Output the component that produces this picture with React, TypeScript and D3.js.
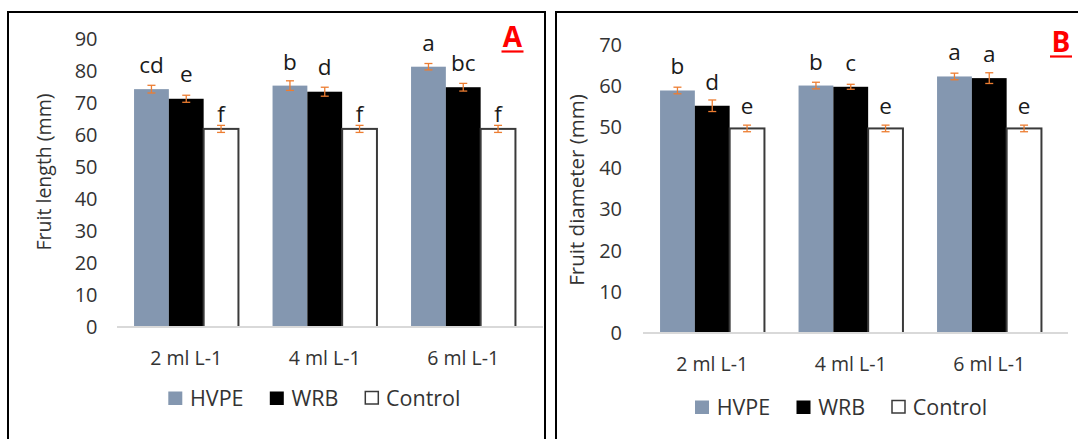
import React from "react";
import * as d3 from "d3";

// ---------- data ----------
const categories = ["2 ml L-1", "4 ml L-1", "6 ml L-1"];
const seriesNames = ["HVPE", "WRB", "Control"];

// Panel A: fruit length (mm)
const lengthHVPE = [74.2, 75.3, 81.2];
const lengthWRB = [71.2, 73.4, 74.8];
const lengthControl = [61.8, 61.8, 61.8];
const lengthErrHVPE = [1.2, 1.5, 1.0];
const lengthErrWRB = [1.1, 1.4, 1.2];
const lengthErrControl = [1.1, 1.1, 1.1];
const lengthLettersHVPE = ["cd", "b", "a"];
const lengthLettersWRB = ["e", "d", "bc"];
const lengthLettersControl = ["f", "f", "f"];
const lengthTicks = [0, 10, 20, 30, 40, 50, 60, 70, 80, 90];

// Panel B: fruit diameter (mm)
const diamHVPE = [58.8, 60.0, 62.2];
const diamWRB = [55.1, 59.7, 61.8];
const diamControl = [49.6, 49.6, 49.6];
const diamErrHVPE = [0.8, 0.8, 0.8];
const diamErrWRB = [1.4, 0.6, 1.3];
const diamErrControl = [0.8, 0.8, 0.8];
const diamLettersHVPE = ["b", "b", "a"];
const diamLettersWRB = ["d", "c", "a"];
const diamLettersControl = ["e", "e", "e"];
const diamTicks = [0, 10, 20, 30, 40, 50, 60, 70];

const seriesFill = ["#8497B0", "#000000", "#FFFFFF"];
const FONT = "'Open Sans', 'Noto Sans', sans-serif";

type PanelProps = {
  box: { x0: number; y0: number; x1: number; y1: number };
  plot: { left: number; right: number; axisEnd: number; y0: number; yTop: number };
  maxTick: number;
  ticks: number[];
  tickRight: number;
  values: number[][];
  errors: number[][];
  letters: string[][];
  letterOffsets: number[];
  title: string;
  titleX: number;
  titleY: number;
  titleSize: number;
  xLabelY: number;
  legendX: number;
  legendY: number;
  tag: string;
  tagX: number;
  tagY: number;
};

function Panel(p: PanelProps) {
  const x = d3.scaleBand<string>().domain(categories).range([p.plot.left, p.plot.right]);
  const xs = d3
    .scaleBand<string>()
    .domain(seriesNames)
    .range([0, x.bandwidth()])
    .paddingInner(0)
    .paddingOuter(0.49);
  const y = d3.scaleLinear().domain([0, p.maxTick]).range([p.plot.y0, p.plot.yTop]);
  const bw = xs.bandwidth();
  const legendOffsets = [0, 101.5, 196];

  return (
    <g>
      <rect
        x={p.box.x0}
        y={p.box.y0}
        width={p.box.x1 - p.box.x0}
        height={p.box.y1 - p.box.y0}
        fill="#fff"
        stroke="#000"
        strokeWidth={2}
      />
      {/* y tick labels */}
      {p.ticks.map((t) => (
        <text
          key={t}
          x={p.tickRight}
          y={y(t)}
          dy="0.36em"
          textAnchor="end"
          fontSize={20}
          fontWeight={500}
          fill="#333333"
        >
          {t}
        </text>
      ))}
      {/* y title */}
      <text
        transform={`translate(${p.titleX},${p.titleY}) rotate(-90)`}
        textAnchor="middle"
        dy="0.35em"
        fontSize={p.titleSize}
        fontWeight={500}
        fill="#333333"
      >
        {p.title}
      </text>
      {/* bars */}
      {seriesNames.map((s, si) =>
        categories.map((c, ci) => {
          const v = p.values[si][ci];
          const bx = (x(c) as number) + (xs(s) as number);
          const top = y(v);
          return (
            <rect
              key={s + c}
              x={bx}
              y={top}
              width={bw}
              height={y(0) - top}
              fill={seriesFill[si]}
              stroke={si === 2 ? "#3a3a3a" : "none"}
              strokeWidth={si === 2 ? 2 : 0}
            />
          );
        })
      )}
      {/* axis line */}
      <line
        x1={p.plot.left}
        x2={p.plot.axisEnd}
        y1={y(0)}
        y2={y(0)}
        stroke="#D9D9D9"
        strokeWidth={2}
      />
      {/* error bars */}
      {seriesNames.map((s, si) =>
        categories.map((c, ci) => {
          const v = p.values[si][ci];
          const e = p.errors[si][ci];
          const cx = (x(c) as number) + (xs(s) as number) + bw / 2;
          return (
            <g key={"e" + s + c} stroke="#ED7D31" strokeWidth={1.3}>
              <line x1={cx} x2={cx} y1={y(v + e)} y2={y(v - e)} />
              <line x1={cx - 4} x2={cx + 4} y1={y(v + e)} y2={y(v + e)} />
              <line x1={cx - 4} x2={cx + 4} y1={y(v - e)} y2={y(v - e)} />
            </g>
          );
        })
      )}
      {/* significance letters */}
      {seriesNames.map((s, si) =>
        categories.map((c, ci) => {
          const v = p.values[si][ci];
          const cx = (x(c) as number) + (xs(s) as number) + bw / 2;
          return (
            <text
              key={"l" + s + c}
              x={cx}
              y={y(v) - p.letterOffsets[si]}
              textAnchor="middle"
              fontSize={22.5}
              fontWeight={500}
              fill="#1a1a1a"
            >
              {p.letters[si][ci]}
            </text>
          );
        })
      )}
      {/* x labels */}
      {categories.map((c) => (
        <text
          key={"x" + c}
          x={(x(c) as number) + x.bandwidth() / 2}
          y={p.xLabelY}
          textAnchor="middle"
          fontSize={19.5}
          fontWeight={500}
          fill="#333333"
        >
          {c}
        </text>
      ))}
      {/* legend */}
      {seriesNames.map((s, si) => (
        <g key={"lg" + s} transform={`translate(${p.legendX + legendOffsets[si]},${p.legendY})`}>
          <rect
            x={si === 2 ? 1 : 0}
            y={-14}
            width={si === 2 ? 13 : 14}
            height={si === 2 ? 12.5 : 13.5}
            fill={seriesFill[si]}
            stroke={si === 2 ? "#3a3a3a" : "none"}
            strokeWidth={1.5}
          />
          <text x={21.7} y={0} fontSize={21.5} fontWeight={500} fill="#333333">
            {s}
          </text>
        </g>
      ))}
      {/* panel tag */}
      <text
        x={p.tagX}
        y={p.tagY}
        textAnchor="middle"
        fontSize={28}
        fontWeight="bold"
        fill="#FF0000"
      >
        {p.tag}
      </text>
      <line
        x1={p.tagX - 11}
        x2={p.tagX + 11}
        y1={p.tagY + 4.5}
        y2={p.tagY + 4.5}
        stroke="#FF0000"
        strokeWidth={2.2}
      />
    </g>
  );
}

export default function App() {
  return (
    <svg
      width={1078}
      height={439}
      style={{ position: "absolute", left: 0, top: 0, fontFamily: FONT, background: "#fff" }}
    >
      <rect x={0} y={0} width={1078} height={439} fill="#fff" />
      <Panel
        box={{ x0: 8, y0: 12, x1: 545, y1: 460 }}
        plot={{ left: 117, right: 532.5, axisEnd: 543, y0: 327, yTop: 38.5 }}
        maxTick={90}
        ticks={lengthTicks}
        tickRight={97.5}
        values={[lengthHVPE, lengthWRB, lengthControl]}
        errors={[lengthErrHVPE, lengthErrWRB, lengthErrControl]}
        letters={[lengthLettersHVPE, lengthLettersWRB, lengthLettersControl]}
        letterOffsets={[16, 16.5, 7]}
        title="Fruit length (mm)"
        titleX={44}
        titleY={172}
        titleSize={19.5}
        xLabelY={365}
        legendX={168.3}
        legendY={405.5}
        tag="A"
        tagX={512.5}
        tagY={47}
      />
      <Panel
        box={{ x0: 556, y0: 12, x1: 1090, y1: 460 }}
        plot={{ left: 643, right: 1058.5, axisEnd: 1068, y0: 333, yTop: 44.3 }}
        maxTick={70}
        ticks={diamTicks}
        tickRight={622}
        values={[diamHVPE, diamWRB, diamControl]}
        errors={[diamErrHVPE, diamErrWRB, diamErrControl]}
        letters={[diamLettersHVPE, diamLettersWRB, diamLettersControl]}
        letterOffsets={[16, 16, 14]}
        title="Fruit diameter (mm)"
        titleX={577}
        titleY={190}
        titleSize={20.5}
        xLabelY={370.5}
        legendX={695}
        legendY={414.5}
        tag="B"
        tagX={1061}
        tagY={52}
      />
    </svg>
  );
}
